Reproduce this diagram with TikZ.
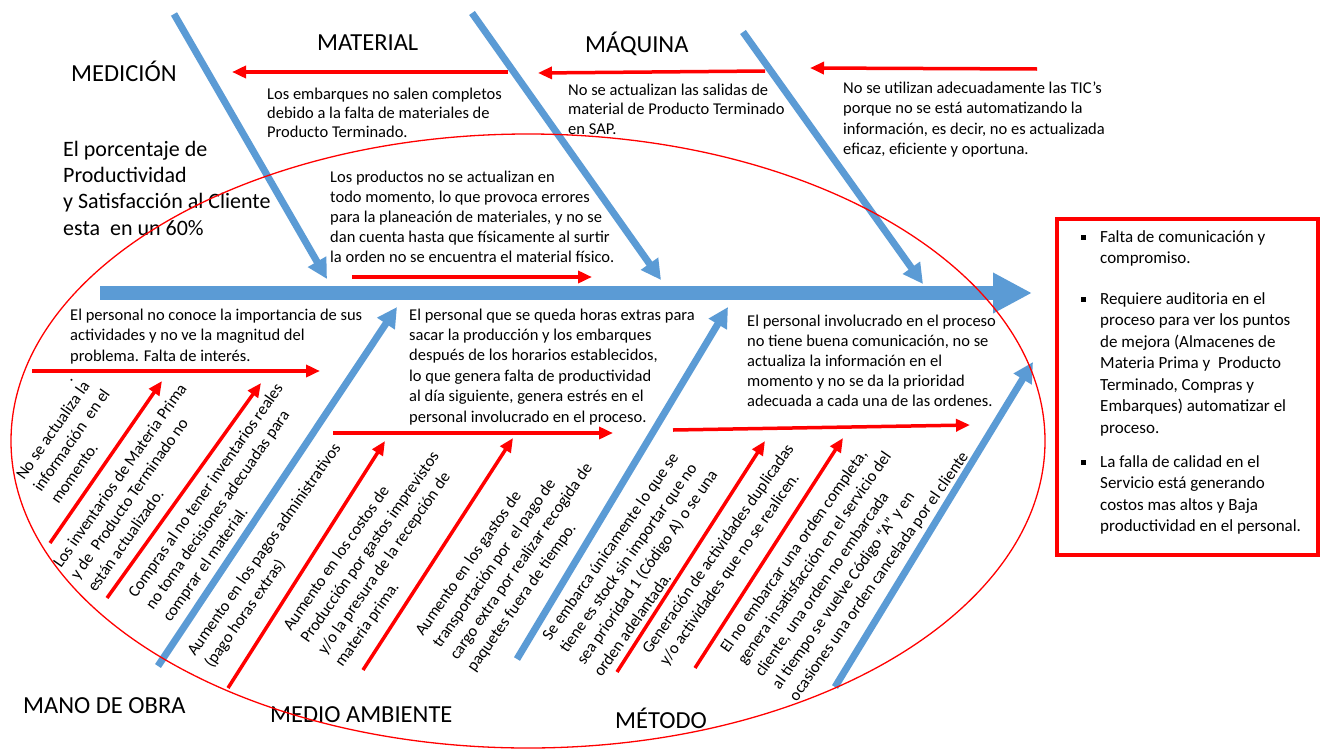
\documentclass[tikz,border=0pt]{standalone}
\usepackage{fontspec}
\setmainfont{Carlito}
\usetikzlibrary{arrows.meta}
\definecolor{fbblue}{RGB}{91,155,213}
\definecolor{fbred}{RGB}{255,0,0}
\begin{document}
\begin{tikzpicture}[x=1pt,y=-1pt,
  bone/.style={draw=fbblue, line width=7pt, -{Triangle[length=20pt,width=20pt]}},
  spine/.style={draw=fbblue, line width=14pt, -{Triangle[length=39pt,width=38pt]}},
  rarrow/.style={draw=fbred, line width=3.5pt, -{Triangle[length=14pt,width=12pt]}},
  lab/.style={anchor=base west, inner sep=0pt, font=\fontsize{24.5}{29}\selectfont},
  desc/.style={anchor=base west, inner sep=0pt, align=left, font=\fontsize{16.5}{20}\selectfont},
  rdesc/.style={desc, rotate=55, font=\fontsize{16.5}{21}\selectfont},
  boxtxt/.style={desc, font=\fontsize{17}{21.5}\selectfont},
]
\fill[white] (0,0) rectangle (1321,755);
\useasboundingbox (0,0) rectangle (1321,755);

% ---------- coordinates ----------
\coordinate (sp0) at (100,293); \coordinate (sp1) at (1032,293);
\coordinate (b1s) at (174,14);  \coordinate (b1e) at (327,279);
\coordinate (b2s) at (472,13);  \coordinate (b2e) at (661,280);
\coordinate (b3s) at (743,32);  \coordinate (b3e) at (923,284);
\coordinate (b4s) at (158,666); \coordinate (b4e) at (397,307);
\coordinate (b5s) at (517,659); \coordinate (b5e) at (728,307);
\coordinate (b6s) at (835,687); \coordinate (b6e) at (1033,362);

\coordinate (r1s) at (508,72);  \coordinate (r1e) at (232,72);
\coordinate (r2s) at (765,71);  \coordinate (r2e) at (538,73);
\coordinate (r3s) at (1037,69); \coordinate (r3e) at (810,68);
\coordinate (r4s) at (352,277); \coordinate (r4e) at (592,277);
\coordinate (r5s) at (32,371);  \coordinate (r5e) at (320,371);
\coordinate (r6s) at (50,543);  \coordinate (r6e) at (162,381);
\coordinate (r7s) at (107,598); \coordinate (r7e) at (261,383);
\coordinate (r8s) at (333,433); \coordinate (r8e) at (613,433);
\coordinate (r9s) at (228,688); \coordinate (r9e) at (385,441);
\coordinate (r10s) at (363,670); \coordinate (r10e) at (513,438);
\coordinate (r11s) at (673,430); \coordinate (r11e) at (970,425);
\coordinate (r12s) at (617,672); \coordinate (r12e) at (765,441);
\coordinate (r13s) at (695,668); \coordinate (r13e) at (843,438);

% ---------- blue skeleton ----------
\draw[spine] (sp0) -- (sp1);
\draw[bone] (b1s) -- (b1e);
\draw[bone] (b2s) -- (b2e);
\draw[bone] (b3s) -- (b3e);
\draw[bone] (b4s) -- (b4e);
\draw[bone] (b5s) -- (b5e);
\draw[bone] (b6s) -- (b6e);

% ---------- red arrows ----------
\foreach \i in {1,...,13} {\draw[rarrow] (r\i s) -- (r\i e);}

% ---------- category labels ----------
\node[lab] (lmed) at (71,81) {MEDICIÓN};
\node[lab] (lmat) at (317,50) {MATERIAL};
\node[lab] (lmaq) at (585,52) {MÁQUINA};
\node[lab] (lmo) at (23,713) {MANO DE OBRA};
\node[lab] (lma) at (270,722) {MEDIO AMBIENTE};
\node[lab] (lmet) at (615,728) {MÉTODO};

% ---------- horizontal texts (anchor = baseline of last line) ----------
\node[desc, font=\fontsize{16.5}{19}\selectfont] (d1) at (267,137)
  {Los embarques no salen completos\\debido a la falta de materiales de\\Producto Terminado.};
\node[desc, font=\fontsize{16.5}{19.5}\selectfont] (d2) at (568,134)
  {No se actualizan las salidas de\\material de Producto Terminado\\en SAP.};
\node[desc, font=\fontsize{16.5}{20.5}\selectfont] (d3) at (843,154.5)
  {No se utilizan adecuadamente las TIC’s\\porque no se está automatizando la\\información, es decir, no es actualizada\\eficaz, eficiente y oportuna.};
\node[desc] (d4) at (330,262)
  {Los productos no se actualizan en\\todo momento, lo que provoca errores\\para la planeación de materiales, y no se\\dan cuenta hasta que físicamente al surtir\\la orden no se encuentra el material físico.};
\node[desc, font=\fontsize{22}{26.3}\selectfont] (big) at (63,235)
  {El porcentaje de\\Productividad\\y Satisfacción al Cliente\\esta~ en un 60\%};
\node[desc, font=\fontsize{16.5}{20.5}\selectfont] (d5) at (70,361)
  {El personal no conoce la importancia de sus\\actividades y no ve la magnitud del\\problema. Falta de interés.};
\node[desc, font=\fontsize{16.5}{20.4}\selectfont] (d6) at (409,422)
  {El personal que se queda horas extras para\\sacar la producción y los embarques\\después de los horarios establecidos,\\lo que genera falta de productividad\\al día siguiente, genera estrés en el\\personal involucrado en el proceso.};
\node[desc] (d7) at (747,406)
  {El personal involucrado en el proceso\\no tiene buena comunicación, no se\\actualiza la información en el\\momento y no se da la prioridad\\adecuada a cada una de las ordenes.};

% ---------- rotated texts (anchor = baseline start of last line) ----------
\node[rdesc] (dot) at (71,383) {.};
\node[rdesc] (q1) at (58.4,505.1) {No se actualiza la\\información~ en el\\momento.};
\node[rdesc] (q2) at (95.4,593.1) {Los inventarios de Materia Prima\\y de~ Producto Terminado no\\están actualizado.};
\node[rdesc] (q3) at (170.4,623.1) {Compras al no tener inventarios reales\\no toma decisiones adecuadas para\\comprar el material.};
\node[rdesc] (q4) at (212.2,669.05) {Aumento en los pagos administrativos\\(pago horas extras)};
\node[rdesc] (q5) at (342.6,668.15) {Aumento en los costos de\\Producción por gastos imprevistos\\y/o la presura de la recepción de\\materia prima.};
\node[rdesc] (q6) at (474.6,673.15) {Aumento en los gastos de\\transportación por~ el pago de\\cargo extra por realizar recogida de\\paquetes fuera de tiempo.};
\node[rdesc] (q7) at (601.6,678.15) {Se embarca únicamente lo que se\\tiene es stock sin importar que no\\sea prioridad 1 (Código A) o se una\\orden adelantada.};
\node[rdesc] (q8) at (667.2,667.05) {Generación de actividades duplicadas\\y/o actividades que no se realicen.};
\node[rdesc] (q9) at (796.8,702.2) {El no embarcar una orden completa,\\genera insatisfacción en el servicio del\\cliente, una orden no embarcada\\al tiempo se vuelve Código “A” y en\\ocasiones una orden cancelada por el cliente};

% ---------- right box ----------
\draw[fbred, line width=3.5pt] (1057,219) rectangle (1318,555);
\fill (1081,235) rectangle (1086,240);
\fill (1081,297) rectangle (1086,302);
\fill (1081,460) rectangle (1086,465);
\node[boxtxt] (k1) at (1100,263.5) {Falta de comunicación y\\compromiso.};
\node[boxtxt] (k2) at (1100,433) {Requiere auditoria en el\\proceso para ver los puntos\\de mejora (Almacenes de\\Materia Prima y~ Producto\\Terminado, Compras y\\Embarques) automatizar el\\proceso.};
\node[boxtxt] (k3) at (1100,531.5) {La falla de calidad en el\\Servicio está generando\\costos mas altos y Baja\\productividad en el personal.};

% ---------- ellipse ----------
\draw[fbred, line width=1.3pt] (528,441) ellipse [x radius=517pt, y radius=307pt];
\end{tikzpicture}
\end{document}
